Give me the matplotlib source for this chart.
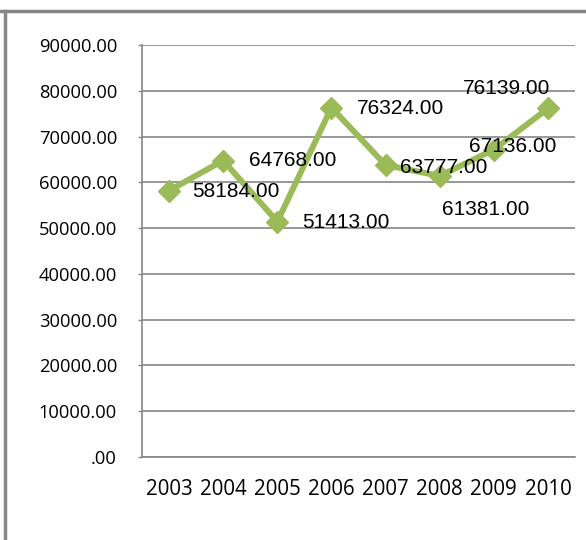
import matplotlib
matplotlib.use("Agg")
import matplotlib.pyplot as plt
from matplotlib.lines import Line2D

years = ["2003", "2004", "2005", "2006", "2007", "2008", "2009", "2010"]
values = [58184, 64768, 51413, 76324, 63777, 61381, 67136, 76139]
# label offsets in pixels (dx, dy) from each point, left-aligned text
label_offsets = [(23, -1), (26, 0), (25, -1), (25, -1), (14, -2), (2, -33), (-25, 3), (-85, 20)]
yticks = [0, 10000, 20000, 30000, 40000, 50000, 60000, 70000, 80000, 90000]
ytick_labels = [".00" if v == 0 else f"{v}.00" for v in yticks]

DPI = 100
fig = plt.figure(figsize=(5.86, 5.40), dpi=DPI)
W, H = 586, 540
ax = fig.add_axes([142 / W, 1 - 457 / H, (575 - 142) / W, (457 - 45) / H])

x = list(range(len(years)))
ax.plot(x, values, color="#9BBB59", lw=4.3, marker="D", markersize=11,
        markerfacecolor="#9BBB59", markeredgecolor="#9BBB59", zorder=3,
        solid_joinstyle="miter")

ax.set_xlim(-0.5, len(years) - 0.5)
ax.set_ylim(0, 90000)
ax.set_yticks(yticks)
ax.set_yticklabels(ytick_labels, fontfamily="Open Sans", fontsize=13.2)
for t in ax.get_yticklabels():
    t.set_y(t.get_position()[1])
ax.set_xticks(x)
ax.set_xticklabels(years, fontfamily="Open Sans", fontsize=14.8)
ax.tick_params(axis="x", length=0, pad=16)
ax.tick_params(axis="y", length=3, width=1, color="#868686", pad=15)
ax.grid(axis="y", color="#868686", lw=1.2)
ax.set_axisbelow(True)
for s in ["top", "right"]:
    ax.spines[s].set_visible(False)
for s in ["left", "bottom"]:
    ax.spines[s].set_color("#868686")
    ax.spines[s].set_linewidth(1.2)

for xi, v, (dx, dy) in zip(x, values, label_offsets):
    ax.annotate(f"{v}.00", (xi, v), xytext=(dx * 72 / DPI, dy * 72 / DPI),
                textcoords="offset points", ha="left", va="center",
                fontfamily="Liberation Sans", fontsize=15, color="black", zorder=4)

# outer frame lines (chart border partially visible)
fig.add_artist(Line2D([0, 1], [1 - 11 / H, 1 - 11 / H], transform=fig.transFigure,
                      color="#868686", lw=2.5))
fig.add_artist(Line2D([5 / W, 5 / W], [0, 1 - 11 / H], transform=fig.transFigure,
                      color="#868686", lw=2.5))

fig.savefig("out.png", dpi=DPI)
